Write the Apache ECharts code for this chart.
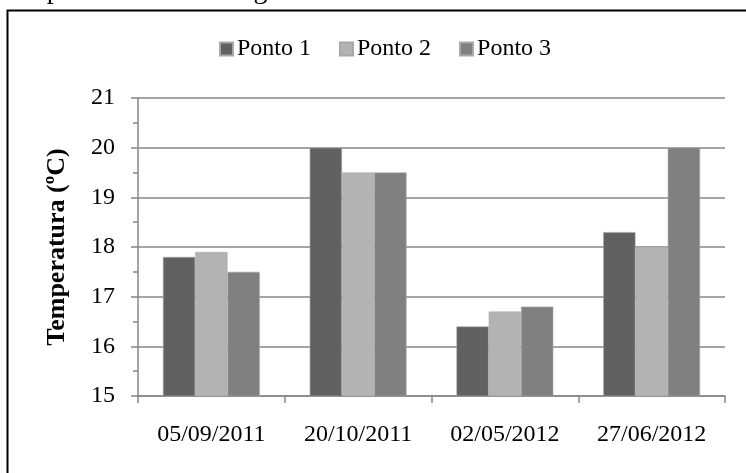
<!DOCTYPE html>
<html>
<head>
<meta charset="utf-8">
<script src="https://cdn.jsdelivr.net/npm/echarts@6/dist/echarts.min.js"></script>
<style>
  html, body { margin: 0; padding: 0; background: #fff; }
  #chart { width: 746px; height: 473px; }
</style>
</head>
<body>
<div id="chart"></div>
<script>
// Sampling campaigns and water temperature (ºC) at each point
const campanhas = ['05/09/2011', '20/10/2011', '02/05/2012', '27/06/2012'];
const ponto1 = [17.8, 20.0, 16.4, 18.3];
const ponto2 = [17.9, 19.5, 16.7, 18.0];
const ponto3 = [17.5, 19.5, 16.8, 20.0];
const serieNomes = ['Ponto 1', 'Ponto 2', 'Ponto 3'];
const cores = ['#616161', '#b3b3b3', '#808080'];

const FONTE = '"Liberation Serif", "Times New Roman", serif';
const cinza = '#878787';

const chart = echarts.init(document.getElementById('chart'), null, { renderer: 'canvas' });

const serieDados = [ponto1, ponto2, ponto3];

chart.setOption({
  animation: false,
  backgroundColor: '#ffffff',
  graphic: [
    {
      type: 'text',
      left: 0,
      top: -23,
      style: {
        text: 'campanhas de amostragem.',
        font: '28px ' + FONTE,
        fill: '#000'
      }
    },
    {
      type: 'rect',
      shape: { x: 7.5, y: 10.5, width: 800, height: 600 },
      style: { fill: 'none', stroke: '#000', lineWidth: 2 },
      silent: true
    }
  ],
  legend: {
    top: 32,
    left: 214,
    itemWidth: 13,
    itemHeight: 13,
    itemGap: 28,
    icon: 'rect',
    textStyle: { fontFamily: FONTE, fontSize: 24, color: '#000', padding: [0, 0, 0, -1] },
    data: serieNomes
  },
  grid: { left: 138, right: 21, top: 98, bottom: 77 },
  xAxis: {
    type: 'category',
    data: campanhas,
    axisLine: { lineStyle: { color: cinza, width: 1.5 } },
    axisTick: { show: true, length: 7, lineStyle: { color: cinza, width: 1.5 } },
    axisLabel: { fontFamily: FONTE, fontSize: 24, color: '#000', margin: 27 },
    splitLine: { show: false }
  },
  yAxis: {
    type: 'value',
    min: 15,
    max: 21,
    interval: 1,
    name: 'Temperatura (ºC)',
    nameLocation: 'middle',
    nameGap: 68,
    nameTextStyle: { fontFamily: FONTE, fontSize: 26, fontWeight: 'bold', color: '#000' },
    axisLine: { show: true, lineStyle: { color: cinza, width: 1.5 } },
    axisTick: { show: true, length: 7, lineStyle: { color: cinza, width: 1.5 } },
    minorTick: { show: true, splitNumber: 2, length: 5, lineStyle: { color: cinza, width: 1.5 } },
    axisLabel: { fontFamily: FONTE, fontSize: 24, color: '#000', margin: 23 },
    splitLine: { show: true, lineStyle: { color: cinza, width: 1.5 } }
  },
  series: serieNomes.map((nome, i) => ({
    name: nome,
    type: 'bar',
    data: serieDados[i],
    barGap: '0%',
    barCategoryGap: '34%',
    itemStyle: { color: cores[i], borderColor: '#a8a8a8', borderWidth: 0.6 }
  }))
});
</script>
</body>
</html>
